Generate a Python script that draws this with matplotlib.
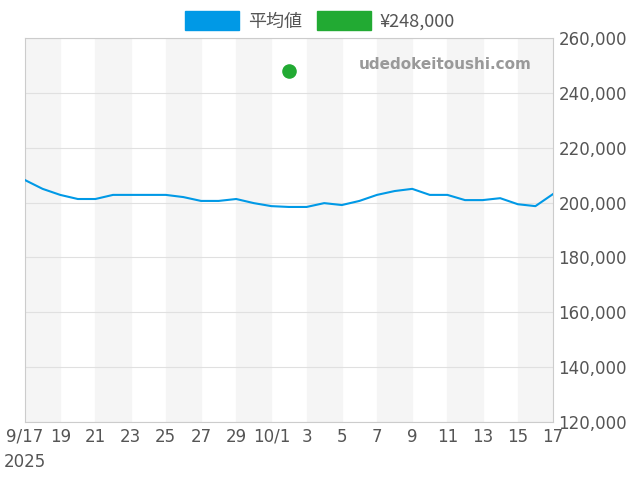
import matplotlib
matplotlib.use("Agg")
import matplotlib.pyplot as plt
import numpy as np

days = list(range(31))  # 0 = 9/17
avg = [208200,205000,202800,201300,201300,202800,202800,202800,202800,202000,
       200600,200600,201300,199800,198700,198400,198400,199800,199100,200600,
       202800,204200,205000,202800,202800,200900,200900,201600,199400,198700,203100]
point_day = 15
point_val = 248000
tick_labels = ["9/17\n2025","19","21","23","25","27","29","10/1","3","5","7","9","11","13","15","17"]

fig = plt.figure(figsize=(6.4,4.8), dpi=100)
ax = fig.add_axes([25/640, 1-422/480, 528/640, 384/480])
for s in range(0, 30, 4):
    ax.axvspan(s, s+2, color="#f5f5f5", zorder=0)
ax.plot(days, avg, color="#0099e6", lw=1.5, zorder=3)
ax.scatter([point_day],[point_val], color="#22aa33", s=90, zorder=4)
ax.set_xlim(0,30)
ax.set_ylim(120000,260000)
ax.set_xticks(range(0,31,2))
ax.set_xticklabels(tick_labels, linespacing=1.5)
ax.yaxis.tick_right()
ax.set_yticks(range(120000,260001,20000))
ax.set_yticklabels([f"{v:,}" for v in range(120000,260001,20000)])
ax.grid(axis="y", color="#e0e0e0", lw=0.8)
ax.tick_params(length=0, labelsize=12, colors="#555555", pad=4)
for sp in ax.spines.values():
    sp.set_color("#cccccc")
ax.text(0.96, 0.93, "udedokeitoushi.com", transform=ax.transAxes, ha="right", va="center",
        fontsize=11, fontweight="bold", color="#999999")
fig.legend(handles=[plt.Rectangle((0,0),1,1,color="#0099e6"), plt.Rectangle((0,0),1,1,color="#22aa33")],
           labels=["平均値","¥248,000"], loc="upper center", bbox_to_anchor=(0.5,1.01), ncol=2,
           frameon=False, handlelength=3, handleheight=1.2, columnspacing=0.8, handletextpad=0.5,
           prop={"family":["Noto Sans CJK JP","DejaVu Sans"], "size":13}, labelcolor="#555555")
fig.savefig("out.png")
